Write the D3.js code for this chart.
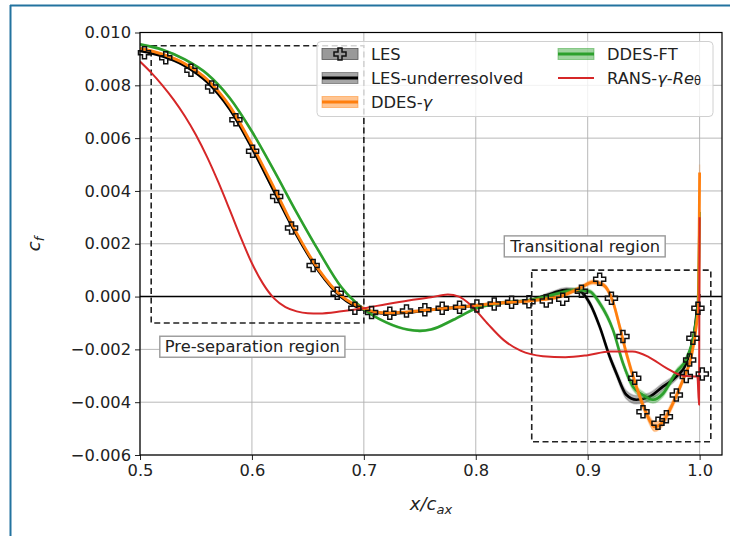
<!DOCTYPE html>
<html>
<head>
<meta charset="utf-8">
<script src="https://cdn.jsdelivr.net/npm/d3@7"></script>
<style>
  html, body { margin: 0; padding: 0; background: #fff; }
  svg { display: block; font-family: "DejaVu Sans", sans-serif; }
</style>
</head>
<body>
<svg id="chart" width="734" height="536"></svg>
<script>
// Skin-friction coefficient along the suction side, x/c_ax vs c_f
// Each point: [x/c_ax, c_f, half-width of the shaded band]

const xTicks = [0.5, 0.6, 0.7, 0.8, 0.9, 1.0];
const yTicks = [-0.006, -0.004, -0.002, 0.000, 0.002, 0.004, 0.006, 0.008, 0.010];

// LES reference (markers)
const les = [
  [0.504, 0.00923], [0.523, 0.00904], [0.5455, 0.00857], [0.564, 0.00794],
  [0.5857, 0.00670], [0.6006, 0.00550], [0.6221, 0.00379], [0.6354, 0.00260],
  [0.6547, 0.00118], [0.6762, 0.00013], [0.692, -0.00044], [0.7069, -0.00060],
  [0.7232, -0.00063], [0.7381, -0.00055], [0.7545, -0.00050], [0.770, -0.00044],
  [0.7855, -0.00040], [0.801, -0.00036], [0.8165, -0.00028], [0.832, -0.00022],
  [0.8475, -0.00020], [0.863, -0.00017], [0.8777, -0.00010], [0.8944, 0.00020],
  [0.9107, 0.00066], [0.9212, -0.00006], [0.9315, -0.00151], [0.942, -0.00309],
  [0.9494, -0.00436], [0.9628, -0.00480], [0.9703, -0.00455], [0.9792, -0.00373],
  [0.9881, -0.00303], [0.9911, -0.00240], [0.994, -0.00158], [0.9985, -0.00044],
  [1.0024, -0.00293]
];

// Under-resolved LES
const lesUnder = [
  [0.50, 0.0093, 0.00003], [0.52, 0.0091, 0.00003], [0.54, 0.00874, 0.00003],
  [0.56, 0.00812, 0.00003], [0.58, 0.0071, 0.00003], [0.60, 0.00562, 0.00003],
  [0.62, 0.00396, 0.00003], [0.64, 0.00232, 0.00003], [0.66, 0.00094, 0.00003],
  [0.68, -0.00003, 0.00003], [0.70, -0.0005, 0.00003], [0.72, -0.00064, 0.00003],
  [0.74, -0.0006, 0.00003], [0.76, -0.0005, 0.00003], [0.79, -0.00038, 0.00003],
  [0.82, -0.00025, 0.00004], [0.85, -0.00012, 0.00005], [0.8688, 0.00013, 0.00007],
  [0.881, 0.00026, 0.00008], [0.8929, 0.00020, 0.00008], [0.9018, -0.00025, 0.0001],
  [0.9107, -0.00114, 0.0001], [0.9196, -0.00227, 0.00012], [0.9256, -0.00290, 0.00014],
  [0.9345, -0.00372, 0.00016], [0.9435, -0.00391, 0.00016], [0.9554, -0.00379, 0.00015],
  [0.9672, -0.00341, 0.00014], [0.9792, -0.00303, 0.00012], [0.9881, -0.00252, 0.0001],
  [0.9955, -0.00126, 0.0001], [0.9985, -0.00025, 0.0001], [1.0, 0.0001, 0.0001]
];

// DDES-gamma
const ddesGamma = [
  [0.50, 0.0094, 0.00003], [0.52, 0.00918, 0.00003], [0.54, 0.00882, 0.00003],
  [0.56, 0.00822, 0.00003], [0.58, 0.00722, 0.00003], [0.60, 0.00575, 0.00003],
  [0.62, 0.0041, 0.00003], [0.64, 0.0024, 0.00003], [0.66, 0.001, 0.00003],
  [0.68, 0.00002, 0.00003], [0.70, -0.00045, 0.00003], [0.72, -0.00062, 0.00003],
  [0.74, -0.00058, 0.00003], [0.76, -0.0005, 0.00003], [0.79, -0.00038, 0.00003],
  [0.82, -0.00025, 0.00004], [0.85, -0.00015, 0.00005], [0.875, 0.0, 0.00006],
  [0.8929, 0.00032, 0.00007], [0.9048, 0.00055, 0.00008], [0.9137, 0.00045, 0.00008],
  [0.9226, -0.00020, 0.0001], [0.9286, -0.00114, 0.0001], [0.9345, -0.00214, 0.00012],
  [0.9435, -0.00341, 0.00014], [0.9524, -0.00442, 0.00016], [0.9598, -0.00493, 0.00018],
  [0.9672, -0.00474, 0.00016], [0.9762, -0.00404, 0.00014], [0.9851, -0.00316, 0.00012],
  [0.9926, -0.00227, 0.0001], [0.997, -0.00114, 0.0001], [0.9991, -0.00025, 0.0001],
  [1.0, 0.0047, 0.0003]
];

// DDES-FT
const ddesFT = [
  [0.50, 0.00955, 0.00003], [0.52, 0.00935, 0.00003], [0.54, 0.00898, 0.00003],
  [0.56, 0.00843, 0.00003], [0.58, 0.00753, 0.00003], [0.60, 0.00625, 0.00003],
  [0.62, 0.00475, 0.00003], [0.64, 0.00318, 0.00003], [0.66, 0.0017, 0.00003],
  [0.68, 0.00035, 0.00003], [0.70, -0.00048, 0.00003], [0.72, -0.00098, 0.00003],
  [0.74, -0.00126, 0.00003], [0.75, -0.0013, 0.00003], [0.76, -0.00125, 0.00003],
  [0.78, -0.00088, 0.00003], [0.80, -0.00045, 0.00003], [0.82, -0.00026, 0.00004],
  [0.85, -0.00012, 0.00005], [0.875, 0.00013, 0.00006], [0.8899, 0.00026, 0.00007],
  [0.9018, 0.00019, 0.00008], [0.9107, -0.00025, 0.0001], [0.9226, -0.00126, 0.0001],
  [0.9315, -0.00252, 0.00012], [0.9404, -0.00341, 0.00013], [0.9494, -0.00373, 0.00013],
  [0.9583, -0.00391, 0.00013], [0.9672, -0.00368, 0.00012], [0.9792, -0.00285, 0.0001],
  [0.9881, -0.00236, 0.0001], [0.9955, -0.00126, 0.0001], [0.9985, -0.00025, 0.0001],
  [1.0, 0.0032, 0.0001]
];

// RANS gamma-Re_theta
const rans = [
  [0.50, 0.0089], [0.51, 0.00848], [0.52, 0.008], [0.53, 0.00746], [0.54, 0.00684],
  [0.55, 0.00612], [0.56, 0.00528], [0.57, 0.00433], [0.58, 0.0033], [0.59, 0.00224],
  [0.60, 0.00126], [0.61, 0.00048], [0.62, -0.00008], [0.63, -0.0004], [0.64, -0.00056],
  [0.65, -0.00063], [0.66, -0.00064], [0.68, -0.00056], [0.70, -0.00044], [0.72, -0.00029],
  [0.74, -0.00015], [0.76, -0.00003], [0.775, 0.00008], [0.785, 0.0], [0.795, -0.0003],
  [0.81, -0.001], [0.825, -0.00165], [0.84, -0.00205], [0.86, -0.00226], [0.88, -0.0023],
  [0.90, -0.00222], [0.92, -0.00208], [0.94, -0.00208], [0.955, -0.0023], [0.97, -0.0027],
  [0.985, -0.003], [0.998, -0.00303], [0.9995, -0.0041], [1.0, 0.0030]
];

// Highlighted regions: [x0, y0, x1, y1]
const regionPre = [0.51, 0.0095, 0.70, -0.001];
const regionTrans = [0.85, 0.001, 1.01, -0.0055];
// Region labels: [x, y, text]
const labelPre = [0.6004, -0.0019, "Pre-separation region"];
const labelTrans = [0.8978, 0.0019, "Transitional region"];

const svg = d3.select("#chart");
const W = 734, H = 536;
const m = { left: 140, right: 722, top: 32.5, bottom: 455 };
const FS = 16.3;

const x = d3.scaleLinear().domain([0.5, 1.02]).range([m.left, m.right]);
const y = d3.scaleLinear().domain([-0.006, 0.010]).range([m.bottom, m.top]);

// figure frame strokes
svg.append("line").attr("x1", 10.5).attr("x2", 10.5).attr("y1", 5).attr("y2", H)
  .attr("stroke", "#23739f").attr("stroke-width", 2);
svg.append("line").attr("x1", 10).attr("x2", 730).attr("y1", 5.5).attr("y2", 5.5)
  .attr("stroke", "#23739f").attr("stroke-width", 2);

svg.append("defs").append("clipPath").attr("id", "clip")
  .append("rect").attr("x", m.left).attr("y", m.top)
  .attr("width", m.right - m.left).attr("height", m.bottom - m.top);

// grid
const grid = svg.append("g");
grid.selectAll(".gx").data(xTicks).join("line")
  .attr("x1", d => x(d)).attr("x2", d => x(d)).attr("y1", m.top).attr("y2", m.bottom)
  .attr("stroke", "#b0b0b0").attr("stroke-width", 0.9);
grid.selectAll(".gy").data(yTicks).join("line")
  .attr("x1", m.left).attr("x2", m.right).attr("y1", d => y(d)).attr("y2", d => y(d))
  .attr("stroke", "#b0b0b0").attr("stroke-width", 0.9);

// axes
const xAxis = d3.axisBottom(x).tickValues(xTicks).tickFormat(d3.format(".1f")).tickSize(5).tickPadding(4);
const yAxis = d3.axisLeft(y).tickValues(yTicks).tickFormat(d => d3.format(".3f")(d).replace("-", "\u2212")).tickSize(5).tickPadding(4);

const gx = svg.append("g").attr("transform", `translate(0,${m.bottom})`).call(xAxis);
const gy = svg.append("g").attr("transform", `translate(${m.left},0)`).call(yAxis);
[gx, gy].forEach(g => {
  g.select(".domain").remove();
  g.selectAll("text").attr("font-family", "DejaVu Sans").attr("font-size", FS).attr("fill", "#222");
  g.selectAll("line").attr("stroke", "#222").attr("stroke-width", 1);
});

const plot = svg.append("g").attr("clip-path", "url(#clip)");

// zero line
plot.append("line").attr("x1", m.left).attr("x2", m.right).attr("y1", y(0)).attr("y2", y(0))
  .attr("stroke", "#000").attr("stroke-width", 1.6);

// dashed region boxes
[regionPre, regionTrans].forEach(r => {
  plot.append("rect")
    .attr("x", x(r[0])).attr("y", y(r[1]))
    .attr("width", x(r[2]) - x(r[0])).attr("height", y(r[3]) - y(r[1]))
    .attr("fill", "none").attr("stroke", "#222").attr("stroke-width", 1.6)
    .attr("stroke-dasharray", "6,3.5");
});

const line = d3.line().x(d => x(d[0])).y(d => y(d[1])).curve(d3.curveMonotoneX);
const band = d3.area().x(d => x(d[0])).y0(d => y(d[1] - d[2])).y1(d => y(d[1] + d[2])).curve(d3.curveMonotoneX);

const series = [
  { data: lesUnder, color: "#000000", bandOpacity: 0.3, width: 2.6 },
  { data: ddesFT, color: "#2ca02c", bandOpacity: 0.4, width: 2.6 },
  { data: ddesGamma, color: "#ff7f0e", bandOpacity: 0.45, width: 2.8 }
];
series.forEach(s => {
  plot.append("path").datum(s.data).attr("d", band)
    .attr("fill", s.color).attr("fill-opacity", s.bandOpacity)
    .attr("stroke", s.color).attr("stroke-opacity", s.bandOpacity * 0.5).attr("stroke-width", 1.5);
  plot.append("path").datum(s.data).attr("d", line)
    .attr("fill", "none").attr("stroke", s.color).attr("stroke-width", s.width)
    .attr("stroke-linejoin", "round");
});

plot.append("path").datum(rans).attr("d", line)
  .attr("fill", "none").attr("stroke", "#d62728").attr("stroke-width", 2)
  .attr("stroke-linejoin", "round");

// filled-plus marker outline
function plusPath(cx, cy, r) {
  const a = r / 3;
  const pts = [[-a, -r], [a, -r], [a, -a], [r, -a], [r, a], [a, a], [a, r], [-a, r], [-a, a], [-r, a], [-r, -a], [-a, -a]];
  return "M" + pts.map(p => (cx + p[0]) + "," + (cy + p[1])).join("L") + "Z";
}
svg.append("g").selectAll("path").data(les).join("path")
  .attr("d", d => plusPath(x(d[0]), y(d[1]), 6))
  .attr("fill", "none").attr("stroke", "#111").attr("stroke-width", 1.5);

// frame
svg.append("rect").attr("x", m.left).attr("y", m.top)
  .attr("width", m.right - m.left).attr("height", m.bottom - m.top)
  .attr("fill", "none").attr("stroke", "#000").attr("stroke-width", 1.2);

// region labels
[labelPre, labelTrans].forEach(l => {
  const t = svg.append("text").attr("x", x(l[0])).attr("y", y(l[1]))
    .attr("text-anchor", "middle").attr("dominant-baseline", "central")
    .attr("font-size", FS).attr("fill", "#222").text(l[2]);
  const bb = t.node().getBBox();
  svg.insert("rect", () => t.node())
    .attr("x", bb.x - 5).attr("y", bb.y - 1).attr("width", bb.width + 10).attr("height", bb.height + 2)
    .attr("fill", "#fff").attr("stroke", "#999").attr("stroke-width", 1.4);
});

// axis labels
const xl = svg.append("text").attr("x", 431).attr("y", 510).attr("text-anchor", "middle")
  .attr("font-size", 18).attr("font-style", "italic").attr("fill", "#222");
xl.append("tspan").text("x/c");
xl.append("tspan").attr("font-size", 13).attr("dy", 4).text("ax");

const yl = svg.append("text").attr("transform", "translate(40,244) rotate(-90)").attr("text-anchor", "middle")
  .attr("font-size", 18).attr("font-style", "italic").attr("fill", "#222");
yl.append("tspan").text("c");
yl.append("tspan").attr("font-size", 13).attr("dy", 4).text("f");

// legend
const lg = svg.append("g");
lg.append("rect").attr("x", 317).attr("y", 41.5).attr("width", 396).attr("height", 75).attr("rx", 4)
  .attr("fill", "#fff").attr("fill-opacity", 0.8).attr("stroke", "#d0d0d0").attr("stroke-width", 1);

const legendItems = [
  { col: 0, row: 0, kind: "marker", label: [["LES", false]] },
  { col: 0, row: 1, kind: "band", color: "#000", bo: 0.35, label: [["LES-underresolved", false]] },
  { col: 0, row: 2, kind: "band", color: "#ff7f0e", bo: 0.45, label: [["DDES-", false], ["\u03b3", true]] },
  { col: 1, row: 0, kind: "band", color: "#2ca02c", bo: 0.45, label: [["DDES-FT", false]] },
  { col: 1, row: 1, kind: "line", color: "#d62728", label: [["RANS-", false], ["\u03b3", true], ["-", false], ["Re", true], ["\u03b8", false, "sub"]] }
];
const colX = [322, 558], textX = [371, 607], rowY = [54, 78, 102];
legendItems.forEach(it => {
  const hx = colX[it.col], cy = rowY[it.row];
  if (it.kind === "marker") {
    lg.append("rect").attr("x", hx).attr("y", cy - 5.5).attr("width", 36).attr("height", 11)
      .attr("fill", "#808080").attr("fill-opacity", 0.8).attr("stroke", "#555").attr("stroke-width", 0.8);
    lg.append("path").attr("d", plusPath(hx + 18, cy, 6)).attr("fill", "none").attr("stroke", "#111").attr("stroke-width", 1.5);
  } else if (it.kind === "band") {
    lg.append("rect").attr("x", hx).attr("y", cy - 5.5).attr("width", 36).attr("height", 11)
      .attr("fill", it.color).attr("fill-opacity", it.bo).attr("stroke", it.color).attr("stroke-opacity", it.bo);
    lg.append("line").attr("x1", hx).attr("x2", hx + 36).attr("y1", cy).attr("y2", cy)
      .attr("stroke", it.color).attr("stroke-width", 2.8);
  } else {
    lg.append("line").attr("x1", hx).attr("x2", hx + 36).attr("y1", cy).attr("y2", cy)
      .attr("stroke", it.color).attr("stroke-width", 2);
  }
  const t = lg.append("text").attr("x", textX[it.col]).attr("y", cy).attr("dominant-baseline", "central")
    .attr("font-size", FS).attr("fill", "#222");
  it.label.forEach(p => {
    const ts = t.append("tspan").text(p[0]);
    if (p[1]) ts.attr("font-style", "italic");
    if (p[2] === "sub") ts.attr("font-size", 11.5).attr("dy", 3);
  });
});
</script>
</body>
</html>
